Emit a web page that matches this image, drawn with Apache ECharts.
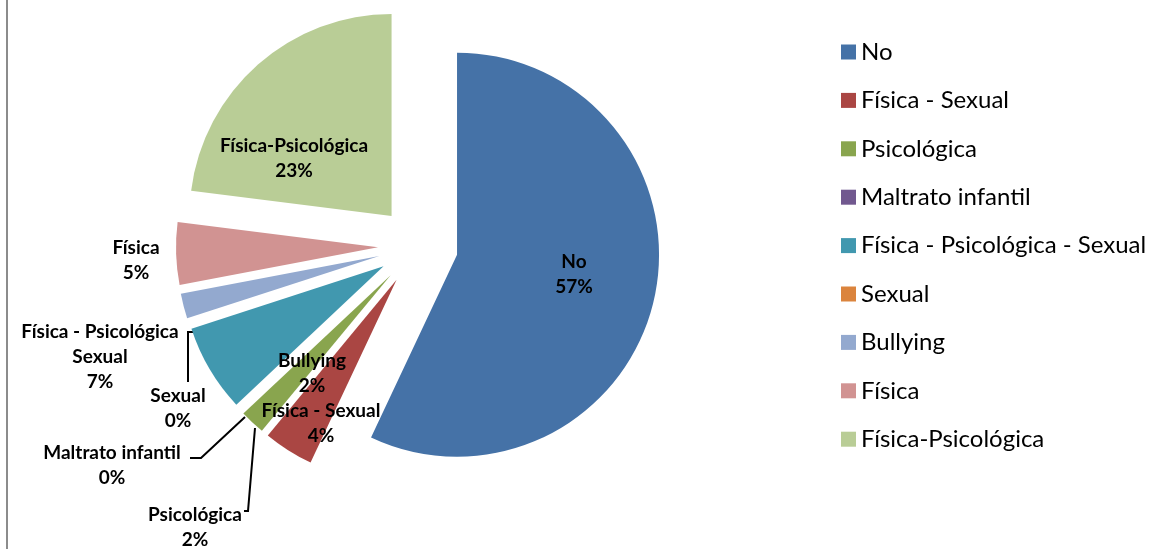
<!DOCTYPE html>
<html>
<head>
<meta charset="utf-8">
<script src="https://cdn.jsdelivr.net/npm/echarts@6/dist/echarts.min.js"></script>
<style>
html,body{margin:0;padding:0;background:#fff;}
#c{width:1157px;height:549px;}
</style>
</head>
<body>
<div id="c"></div>
<script>
const categories = ['No', 'Física - Sexual', 'Psicológica', 'Maltrato infantil', 'Física - Psicológica - Sexual', 'Sexual', 'Bullying', 'Física', 'Física-Psicológica'];
const values = [57, 4, 2, 0, 7, 0, 2, 5, 23];
const labelNames = ['No', 'Física - Sexual', 'Psicológica', 'Maltrato infantil', 'Física - Psicológica\nSexual', 'Sexual', 'Bullying', 'Física', 'Física-Psicológica'];
const colors = ['#4572A7', '#AA4643', '#89A54E', '#71588F', '#4198AF', '#DB843D', '#93A9CF', '#D19392', '#B9CD96'];

// label placement on the canvas (styling only, not data)
const labelPos = {
  0: {x: 574, y: 274},
  1: {x: 321, y: 423},
  2: {x: 195, y: 527, line: [[255, 428], [248, 511], [244, 511]]},
  3: {x: 112, y: 465, line: [[245, 417], [201, 458], [190, 458]]},
  4: {x: 100, y: 357},
  5: {x: 178, y: 408, line: [[195, 332], [188, 332], [188, 382]]},
  6: {x: 312, y: 373},
  7: {x: 136, y: 260},
  8: {x: 294, y: 158}
};
const outsideIdx = [2, 3, 4, 5, 7];
const lineIdx = [2, 3, 5];
const SEL_OFFSET = 40;

// explode offsets of each slice (computed from the values)
const total = values.reduce((a, b) => a + b, 0);
const sliceOffsets = [];
let cum = 0;
values.forEach(v => {
  const mid = (cum + v / 2) / total * 2 * Math.PI;
  sliceOffsets.push([SEL_OFFSET * Math.sin(mid), -SEL_OFFSET * Math.cos(mid)]);
  cum += v;
});

const chart = echarts.init(document.getElementById('c'), null, {renderer: 'canvas'});
const data = categories.map((n, i) => ({
  name: n,
  value: values[i],
  selected: true,
  itemStyle: {color: colors[i]},
  label: {
    position: outsideIdx.includes(i) ? 'outside' : 'inside',
    formatter: labelNames[i] + '\n' + values[i] + '%'
  },
  labelLine: {show: lineIdx.includes(i)}
}));

chart.setOption({
  animation: false,
  backgroundColor: '#fff',
  graphic: [{
    type: 'line', shape: {x1: 7, y1: 0, x2: 7, y2: 549},
    style: {stroke: '#8c8c8c', lineWidth: 2}
  }],
  legend: {
    orient: 'vertical',
    left: 836,
    top: 35,
    itemWidth: 15,
    itemHeight: 15,
    itemGap: 24.4,
    icon: 'rect',
    selectedMode: false,
    textStyle: {fontFamily: 'Lato', fontSize: 24, color: '#000'},
    data: categories
  },
  series: [{
    type: 'pie',
    center: [418, 246],
    radius: 202,
    startAngle: 90,
    clockwise: true,
    selectedMode: 'multiple',
    selectedOffset: SEL_OFFSET,
    avoidLabelOverlap: false,
    minShowLabelAngle: 0,
    stillShowZeroSum: true,
    emphasis: {disabled: true},
    itemStyle: {borderWidth: 0},
    label: {
      show: true,
      fontFamily: 'Lato',
      fontWeight: 'bold',
      fontSize: 19,
      lineHeight: 25,
      color: '#000',
      align: 'center'
    },
    labelLine: {
      lineStyle: {color: '#000', width: 2}
    },
    labelLayout: function (p) {
      const lp = labelPos[p.dataIndex];
      const o = sliceOffsets[p.dataIndex];
      const rc = p.labelRect;
      const ax = rc.x + (p.align === 'right' ? rc.width : p.align === 'center' ? rc.width / 2 : 0);
      const ay = rc.y + (p.verticalAlign === 'bottom' ? rc.height : p.verticalAlign === 'middle' ? rc.height / 2 : 0);
      const r = {
        dx: lp.x - ax - o[0],
        dy: lp.y - ay - o[1],
        align: 'center',
        verticalAlign: 'middle'
      };
      if (lp.line) {
        r.labelLinePoints = lp.line.map(pt => [pt[0] - o[0], pt[1] - o[1]]);
      }
      return r;
    },
    data: data
  }]
});
</script>
</body>
</html>
